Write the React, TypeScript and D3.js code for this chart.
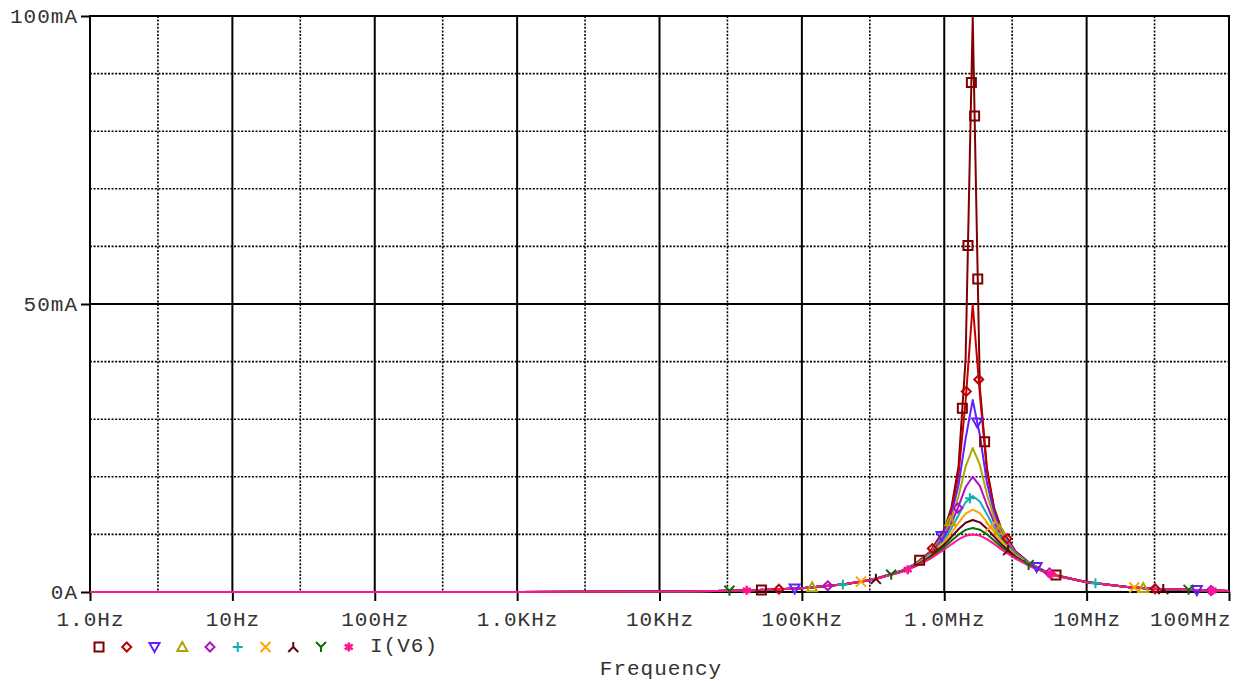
import React, { useEffect, useRef } from 'react';
import * as d3 from 'd3';

// AC sweep points (kHz) and I(V6) in mA for each resistor step
const freqKHz = [0.001, 1, 10, 25.1, 50.1, 100, 199.5, 316.2, 501.2, 631, 794.3, 1000, 1122, 1259, 1412.5,
  1584.9, 1778.3, 1995.3, 2238.7, 2511.9, 3162.3, 3981.1, 5011.9, 6309.6, 10000, 19952.6, 31622.8, 100000];

const iR10 = [0, 0.007, 0.066, 0.166, 0.332, 0.664, 1.341, 2.178, 3.678, 4.945, 6.981, 10.86, 14.61, 21.74, 40.46,
  99.7, 35.5, 21.5, 14.6, 11.06, 7.069, 5.001, 3.714, 2.833, 1.719, 0.845, 0.531, 0.168];
const iR20 = [0, 0.007, 0.066, 0.166, 0.332, 0.664, 1.341, 2.177, 3.671, 4.926, 6.93, 10.68, 14.17, 20.35, 33.13,
  49.96, 34.4, 20.92, 14.48, 10.86, 7.017, 4.983, 3.706, 2.83, 1.718, 0.845, 0.531, 0.168];
const iR30 = [0, 0.007, 0.066, 0.166, 0.332, 0.664, 1.34, 2.174, 3.658, 4.897, 6.849, 10.39, 13.5, 18.52, 26.62,
  33.32, 27.27, 18.95, 13.78, 10.55, 6.932, 4.952, 3.693, 2.824, 1.717, 0.845, 0.531, 0.168];
const iR40 = [0, 0.007, 0.066, 0.166, 0.332, 0.664, 1.339, 2.171, 3.641, 4.856, 6.739, 10.01, 12.72, 16.63, 21.76,
  24.99, 22.11, 16.94, 12.94, 10.16, 6.818, 4.91, 3.676, 2.816, 1.715, 0.845, 0.531, 0.168];
const iR50 = [0, 0.007, 0.066, 0.166, 0.332, 0.664, 1.338, 2.166, 3.62, 4.805, 6.605, 9.59, 11.88, 14.88, 18.22,
  20.0, 18.43, 15.1, 12.07, 9.721, 6.68, 4.858, 3.654, 2.806, 1.713, 0.844, 0.531, 0.168];
const iR60 = [0, 0.007, 0.066, 0.166, 0.332, 0.663, 1.336, 2.16, 3.594, 4.746, 6.452, 9.139, 11.05, 13.34, 15.6,
  16.67, 15.72, 13.5, 11.2, 9.252, 6.522, 4.796, 3.627, 2.794, 1.71, 0.844, 0.531, 0.168];
const iR70 = [0, 0.007, 0.066, 0.166, 0.332, 0.663, 1.335, 2.154, 3.564, 4.678, 6.284, 8.68, 10.27, 12.02, 13.59,
  14.29, 13.68, 12.14, 10.39, 8.777, 6.349, 4.726, 3.596, 2.78, 1.707, 0.844, 0.531, 0.168];
const iR80 = [0, 0.007, 0.066, 0.166, 0.332, 0.663, 1.333, 2.146, 3.531, 4.603, 6.106, 8.228, 9.542, 10.9, 12.03,
  12.5, 12.09, 10.99, 9.636, 8.31, 6.165, 4.648, 3.562, 2.764, 1.703, 0.843, 0.531, 0.168];
const iR90 = [0, 0.007, 0.066, 0.166, 0.332, 0.663, 1.332, 2.138, 3.494, 4.522, 5.921, 7.792, 8.88, 9.942, 10.78,
  11.11, 10.82, 10.01, 8.955, 7.861, 5.975, 4.565, 3.524, 2.746, 1.699, 0.843, 0.531, 0.168];
const iR100 = [0, 0.007, 0.066, 0.166, 0.332, 0.663, 1.329, 2.129, 3.454, 4.437, 5.733, 7.378, 8.281, 9.123, 9.754,
  10.0, 9.785, 9.173, 8.342, 7.437, 5.782, 4.478, 3.483, 2.727, 1.694, 0.842, 0.531, 0.168];

const traces = [iR10, iR20, iR30, iR40, iR50, iR60, iR70, iR80, iR90, iR100];

// frequency (kHz) of the first symbol on each trace
const markerStartKHz = [52, 69, 89, 118, 152, 194, 260, 331, 31, 41];

const xTickHz = [1, 10, 100, 1e3, 1e4, 1e5, 1e6, 1e7, 1e8];
const xTickLabels = ['1.0Hz', '10Hz', '100Hz', '1.0KHz', '10KHz', '100KHz', '1.0MHz', '10MHz', '100MHz'];
const yTickValues = [0, 50, 100];
const yTickLabels = ['0A', '50mA', '100mA'];
const legendLabel = 'I(V6)';

const colors = ['#800000', '#c00000', '#6020ff', '#b0a400', '#b010c0', '#10b0b0', '#ffa500', '#600010', '#0a6b0a', '#ff1493'];
const symbols = ['square', 'diamond', 'tridown', 'triup', 'diamond', 'plus', 'cross', 'lambda', 'ypsilon', 'star'];

const FONT = '"Liberation Mono", "Courier New", monospace';

function symbolPath(kind: string): string {
  switch (kind) {
    case 'square': return 'M-4.5,-4.5H4.5V4.5H-4.5Z';
    case 'diamond': return 'M0,-4.5L4.5,0L0,4.5L-4.5,0Z';
    case 'tridown': return 'M-5,-4H5L0,5Z';
    case 'triup': return 'M0,-5L5,4H-5Z';
    case 'plus': return 'M-5,0H5M0,-5V5';
    case 'cross': return 'M-5,-5L5,5M5,-5L-5,5';
    case 'lambda': return 'M0,-5V0L-5,5M0,0L5,5';
    case 'ypsilon': return 'M-5,-5L0,0L5,-5M0,0V5';
    default: return 'M0,-4.5V4.5M-4,-2.3L4,2.3M-4,2.3L4,-2.3';
  }
}

// place symbols along the drawn trace every `step` px of screen arc length
function placeMarkers(pts: [number, number][], startX: number, step: number) {
  const cum = [0];
  for (let i = 1; i < pts.length; i++) {
    cum.push(cum[i - 1] + Math.hypot(pts[i][0] - pts[i - 1][0], pts[i][1] - pts[i - 1][1]));
  }
  let s0 = 0;
  for (let i = 1; i < pts.length; i++) {
    if (pts[i][0] >= startX) {
      const t = (startX - pts[i - 1][0]) / (pts[i][0] - pts[i - 1][0]);
      s0 = cum[i - 1] + t * (cum[i] - cum[i - 1]);
      break;
    }
  }
  const out: [number, number][] = [];
  const total = cum[cum.length - 1];
  let j = 1;
  for (let s = s0; s <= total - 14; s += step) {
    while (j < cum.length - 1 && cum[j] < s) j++;
    const seg = cum[j] - cum[j - 1];
    const t = seg > 0 ? (s - cum[j - 1]) / seg : 0;
    out.push([pts[j - 1][0] + t * (pts[j][0] - pts[j - 1][0]), pts[j - 1][1] + t * (pts[j][1] - pts[j - 1][1])]);
  }
  return out;
}

export default function App() {
  const ref = useRef<SVGSVGElement>(null);

  useEffect(() => {
    const svg = d3.select(ref.current);
    svg.selectAll('*').remove();

    const x = d3.scaleLog().domain([1, 1e8]).range([90, 1229]);
    const y = d3.scaleLinear().domain([0, 100]).range([592, 16]);
    const [x0, x1] = x.range();
    const [y0, y1] = y.range();

    // ---- grid ----
    const grid = svg.append('g');
    xTickHz.slice(0, -1).forEach(d => {
      grid.append('line').attr('x1', x(d * 3)).attr('x2', x(d * 3)).attr('y1', y1).attr('y2', y0)
        .attr('stroke', '#000').attr('stroke-width', 1.6).attr('stroke-dasharray', '2,1.6');
    });
    d3.range(10, 100, 10).filter(v => v !== 50).forEach(v => {
      grid.append('line').attr('x1', x0).attr('x2', x1).attr('y1', y(v)).attr('y2', y(v))
        .attr('stroke', '#000').attr('stroke-width', 1.6).attr('stroke-dasharray', '2,1.6');
    });
    xTickHz.forEach(d => {
      grid.append('line').attr('x1', x(d)).attr('x2', x(d)).attr('y1', y1).attr('y2', y0)
        .attr('stroke', '#000').attr('stroke-width', 2);
    });
    grid.append('line').attr('x1', x0).attr('x2', x1).attr('y1', y(50)).attr('y2', y(50))
      .attr('stroke', '#000').attr('stroke-width', 2);
    grid.append('rect').attr('x', x0).attr('y', y1).attr('width', x1 - x0).attr('height', y0 - y1)
      .attr('fill', 'none').attr('stroke', '#000').attr('stroke-width', 2);

    // ---- axes ----
    const xAxis = d3.axisBottom(x).tickValues(xTickHz).tickSize(9).tickPadding(10)
      .tickFormat((d, i) => xTickLabels[i]);
    const gx = svg.append('g').attr('transform', `translate(0,${y0})`).call(xAxis);
    gx.select('.domain').remove();
    gx.selectAll('line').attr('stroke', '#000').attr('stroke-width', 2);
    gx.selectAll('text').attr('font-family', FONT).attr('font-size', 21).attr('letter-spacing', 1)
      .attr('fill', '#333')
      .attr('text-anchor', (d, i) => (i === xTickHz.length - 1 ? 'end' : 'middle'))
      .attr('dx', (d, i) => (i === xTickHz.length - 1 ? 2 : 0));

    const yAxis = d3.axisLeft(y).tickValues(yTickValues).tickSize(9).tickPadding(3)
      .tickFormat((d, i) => yTickLabels[i]);
    const gy = svg.append('g').attr('transform', `translate(${x0},0)`).call(yAxis);
    gy.select('.domain').remove();
    gy.selectAll('line').attr('stroke', '#000').attr('stroke-width', 2);
    gy.selectAll('text').attr('font-family', FONT).attr('font-size', 21).attr('letter-spacing', 1)
      .attr('fill', '#333');

    // ---- traces ----
    const hz = freqKHz.map(f => f * 1000);
    const line = d3.line<number>().x((d, i) => x(hz[i])).y(d => y(d));
    svg.append('clipPath').attr('id', 'plotclip').append('rect')
      .attr('x', x0).attr('y', y1 - 2).attr('width', x1 - x0).attr('height', y0 - y1 + 4);
    const plot = svg.append('g').attr('clip-path', 'url(#plotclip)');
    traces.forEach((vals, k) => {
      plot.append('path').attr('d', line(vals)).attr('fill', 'none')
        .attr('stroke', colors[k]).attr('stroke-width', 2).attr('stroke-linejoin', 'round');
    });

    // ---- trace symbols ----
    traces.forEach((vals, k) => {
      const pts = vals.map((v, i) => [x(hz[i]), y(v)] as [number, number]);
      const marks = placeMarkers(pts, x(markerStartKHz[k] * 1000), 163);
      marks.forEach(p => {
        svg.append('path').attr('d', symbolPath(symbols[k]))
          .attr('transform', `translate(${p[0]},${p[1]})`)
          .attr('fill', 'none').attr('stroke', colors[k])
          .attr('stroke-width', symbols[k] === 'star' ? 2.6 : 2);
      });
    });

    // ---- legend ----
    const legend = svg.append('g').attr('transform', 'translate(99,647)');
    symbols.forEach((s, k) => {
      legend.append('path').attr('d', symbolPath(s)).attr('transform', `translate(${k * 27.75},0)`)
        .attr('fill', 'none').attr('stroke', colors[k]).attr('stroke-width', s === 'star' ? 2.6 : 2);
    });
    legend.append('text').attr('x', 271).attr('y', 5).attr('font-family', FONT).attr('font-size', 21)
      .attr('letter-spacing', 1).attr('fill', '#333').text(legendLabel);

    svg.append('text').attr('x', 661).attr('y', 675).attr('text-anchor', 'middle')
      .attr('font-family', FONT).attr('font-size', 21).attr('letter-spacing', 1).attr('fill', '#333')
      .text('Frequency');
  }, []);

  return (
    <svg ref={ref} width={1236} height={681}
      style={{ position: 'absolute', left: 0, top: 0, background: '#fff' }} />
  );
}
